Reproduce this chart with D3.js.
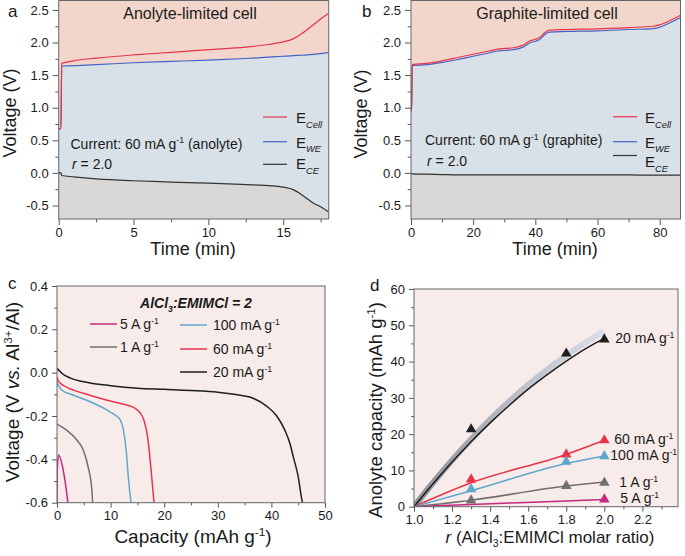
<!DOCTYPE html>
<html><head><meta charset="utf-8">
<script src="https://cdn.jsdelivr.net/npm/d3@7"></script>
<style>body{margin:0;background:#fff}svg{display:block;font-family:"Liberation Sans",Arial,sans-serif}</style>
</head><body>
<svg id="fig" width="685" height="556"></svg>
<script>
// ---------- Panel a : anolyte-limited cell ----------
const timeA = [0,0.15,0.2,1,2.5,5,7.5,10,12.5,14,15,15.7,16.2,17,17.5,18.04];
const cellA = [0.68,0.68,1.68,1.72,1.76,1.81,1.85,1.89,1.93,1.97,2.01,2.06,2.13,2.27,2.36,2.45];
const weA   = [0.68,0.68,1.64,1.645,1.66,1.69,1.71,1.73,1.755,1.775,1.79,1.80,1.805,1.82,1.83,1.845];
const ceA   = [0.005,0.0,-0.04,-0.06,-0.09,-0.12,-0.14,-0.157,-0.18,-0.195,-0.218,-0.26,-0.33,-0.46,-0.52,-0.6];
// ---------- Panel b : graphite-limited cell ----------
const timeB = [0,0.2,0.4,5,10,15,20,25,28,33,36,38,40,41.5,43,44.5,50,60,70,78,80,83,86.7];
const cellB = [0.95,0.95,1.66,1.68,1.72,1.77,1.82,1.87,1.9,1.92,1.96,2.02,2.05,2.08,2.15,2.19,2.2,2.21,2.23,2.25,2.27,2.33,2.42];
const weB   = [0.945,0.94,1.645,1.66,1.695,1.74,1.79,1.84,1.87,1.89,1.93,1.99,2.02,2.05,2.12,2.16,2.17,2.18,2.2,2.215,2.235,2.295,2.385];
const ceB   = [-0.005,-0.01,-0.015,-0.02,-0.025,-0.03,-0.03,-0.03,-0.03,-0.03,-0.03,-0.03,-0.03,-0.03,-0.03,-0.03,-0.03,-0.03,-0.03,-0.035,-0.035,-0.035,-0.035];
const voltTicks = [-0.5,0,0.5,1.0,1.5,2.0,2.5];
const voltMinor = [-0.25,0.25,0.75,1.25,1.75,2.25];
const timeTicksA = [0,5,10,15];
const timeMinorA = [2.5,7.5,12.5,17.5];
const timeTicksB = [0,20,40,60,80];
const timeMinorB = [10,30,50,70];
// ---------- Panel c : discharge curves ----------
const cap20 = [0,1,2.5,5,10,15,20,25,30,33,36.6,39.1,41,42.5,43.5,44.1,45,45.5,45.8];
const v20   = [0.02,-0.005,-0.025,-0.042,-0.06,-0.072,-0.077,-0.082,-0.09,-0.1,-0.118,-0.154,-0.2,-0.265,-0.33,-0.39,-0.48,-0.56,-0.6];
const cap60 = [0,0.3,1.8,4.9,8,11.1,13,14.6,15.5,16.2,16.9,17.5,18.1];
const v60   = [-0.02,-0.04,-0.067,-0.095,-0.118,-0.138,-0.149,-0.165,-0.185,-0.218,-0.295,-0.434,-0.6];
const cap100 = [0,0.87,3,6.2,9.3,10.8,11.8,12.4,12.9,13.3,13.8];
const v100   = [-0.045,-0.08,-0.103,-0.134,-0.172,-0.195,-0.218,-0.265,-0.357,-0.48,-0.6];
const cap1A = [0,1.8,3.7,4.9,5.8,6.5,6.65];
const v1A   = [-0.237,-0.265,-0.311,-0.357,-0.434,-0.54,-0.6];
const cap5A = [0,0.05,0.3,1.0,1.5,2.05];
const v5A   = [-0.6,-0.45,-0.38,-0.43,-0.5,-0.6];
const capTicks = [0,10,20,30,40,50];
const capMinor = [5,15,25,35,45];
const vcTicks = [-0.6,-0.4,-0.2,0.0,0.2,0.4];
const vcMinor = [-0.5,-0.3,-0.1,0.1,0.3];
// ---------- Panel d : capacity vs r ----------
const ratios = [1.3,1.8,2.0];
const pts20 = [21.6,42.5,46.4];
const pts60 = [7.8,14.7,18.6];
const pts100 = [5.1,12.7,14.2];
const pts1A = [2.0,6.0,6.9];
const ratio5A = [2.0];
const pts5A = [2.3];
const fitR = [1.0,1.1,1.2,1.3,1.4,1.5,1.6,1.7,1.8,1.9,2.0];
const fit20 = [0,6.3,12.3,17.9,23.1,27.9,32.4,36.4,40.1,43.5,46.4];
const band20 = [0,6.6,12.8,18.6,24.0,29.0,33.6,37.8,41.6,45.2,48.4];
const lineR = [1.0,1.3,1.8,2.0];
const line60 = [0,6.6,14.4,18.3];
const line100 = [0,4.4,11.9,14.0];
const line1A = [0,1.8,5.7,6.8];
const line5A = [0,0.6,1.6,2.0];
const rTicks = [1.0,1.2,1.4,1.6,1.8,2.0,2.2];
const rMinor = [1.1,1.3,1.5,1.7,1.9,2.1,2.3];
const dcTicks = [0,10,20,30,40,50,60];
const dcMinor = [5,15,25,35,45,55];

const RED = '#e8344b', BLUE = '#4463c6', BLACK = '#1e1e1e', LBLUE = '#5ea7cc', GREY = '#6f6f6f', MAG = '#c4287f';
const svg = d3.select('#fig');

function rich(t, str, size) {
  const re = /(\^\{[^}]*\}|_\{[^}]*\}|~\{[^}]*\}|%\{[^}]*\})/g;
  const parts = str.split(re).filter(s => s.length);
  let shift = 0;
  parts.forEach(p => {
    let kind = 'n', txt = p;
    if (/^[\^_~%]\{/.test(p)) { kind = p[0]; txt = p.slice(2, -1); }
    const ts = t.append('tspan').text(txt);
    let target = 0;
    if (kind === '^') { target = -size * 0.36; ts.attr('font-size', size * 0.62); }
    else if (kind === '_') { target = size * 0.25; ts.attr('font-size', size * 0.62); }
    else if (kind === '%') { target = size * 0.3; ts.attr('font-size', size * 0.62).attr('font-style', 'italic'); }
    else if (kind === '~') ts.attr('font-style', 'italic');
    const dy = target - shift;
    if (dy) ts.attr('dy', dy.toFixed(2));
    shift = target;
  });
  return t;
}
function label(x, y, str, size, opts = {}) {
  const t = svg.append('text').attr('x', x).attr('y', y).attr('font-size', size)
    .attr('fill', '#1a1a1a').attr('text-anchor', opts.anchor || 'start');
  if (opts.weight) t.attr('font-weight', opts.weight);
  if (opts.style) t.attr('font-style', opts.style);
  if (opts.rotate) t.attr('transform', `rotate(-90,${x},${y})`);
  return rich(t, str, size);
}
const fmt1 = d => d.toFixed(1);
const fmt0 = d => String(d);

function axes(xs, ys, xT, xM, yT, yM, fx, fy, tick) {
  const [x0, x1] = xs.range(), [yb, yt] = ys.range();
  const g = svg.append('g');
  g.append('g').attr('transform', `translate(0,${yb})`)
    .call(d3.axisBottom(xs).tickValues(xT).tickFormat(fx).tickSize(tick).tickPadding(3).tickSizeOuter(0));
  g.append('g').attr('transform', `translate(0,${yb})`)
    .call(d3.axisBottom(xs).tickValues(xM).tickFormat('').tickSize(tick * 0.55).tickSizeOuter(0));
  g.append('g').attr('transform', `translate(${x0},0)`)
    .call(d3.axisLeft(ys).tickValues(yT).tickFormat(fy).tickSize(tick).tickPadding(4).tickSizeOuter(0));
  g.append('g').attr('transform', `translate(${x0},0)`)
    .call(d3.axisLeft(ys).tickValues(yM).tickFormat('').tickSize(tick * 0.55).tickSizeOuter(0));
  g.selectAll('.domain').remove();
  g.selectAll('.tick line').attr('stroke', '#555');
  g.selectAll('text').attr('font-size', 13).attr('fill', '#1a1a1a')
    .attr('font-family', '"Liberation Sans", Arial, sans-serif');
  svg.append('rect').attr('x', x0).attr('y', yt).attr('width', x1 - x0).attr('height', yb - yt)
    .attr('fill', 'none').attr('stroke', '#666').attr('stroke-width', 1);
}
function clip(id, xs, ys) {
  const [x0, x1] = xs.range(), [yb, yt] = ys.range();
  svg.append('clipPath').attr('id', id).append('rect')
    .attr('x', x0).attr('y', yt).attr('width', x1 - x0).attr('height', yb - yt);
  return svg.append('g').attr('clip-path', `url(#${id})`);
}

// ===== Panels a and b =====
function voltPanel(id, xs, ys, t, cell, we, ce) {
  const [x0, x1] = xs.range(), [yb, yt] = ys.range();
  const g = clip(id, xs, ys);
  g.append('rect').attr('x', x0).attr('y', yt).attr('width', x1 - x0).attr('height', yb - yt).attr('fill', '#f3d6cb');
  const idx = d3.range(t.length);
  g.append('path').attr('fill', '#d8e1e7')
    .attr('d', d3.area().x(i => xs(t[i])).y0(yb).y1(i => ys(we[i])).curve(d3.curveMonotoneX)(idx));
  g.append('path').attr('fill', '#d9d8d6')
    .attr('d', d3.area().x(i => xs(t[i])).y0(yb).y1(i => ys(ce[i])).curve(d3.curveMonotoneX)(idx));
  const ln = arr => d3.line().x(i => xs(t[i])).y(i => ys(arr[i])).curve(d3.curveMonotoneX)(idx);
  g.append('path').attr('d', ln(we)).attr('fill', 'none').attr('stroke', BLUE).attr('stroke-width', 1.2);
  g.append('path').attr('d', ln(cell)).attr('fill', 'none').attr('stroke', RED).attr('stroke-width', 1.2);
  g.append('path').attr('d', ln(ce)).attr('fill', 'none').attr('stroke', '#333').attr('stroke-width', 1.2);
}
const xA = d3.scaleLinear().domain([0, 18.04]).range([58.7, 328.7]);
const yAB = d3.scaleLinear().domain([-0.707, 2.645]).range([219, 0.5]);
voltPanel('ca', xA, yAB, timeA, cellA, weA, ceA);
axes(xA, yAB, timeTicksA, timeMinorA, voltTicks, voltMinor, fmt0, fmt1, 6);
const xB = d3.scaleLinear().domain([0, 86.7]).range([411, 680.5]);
voltPanel('cb', xB, yAB, timeB, cellB, weB, ceB);
axes(xB, yAB, timeTicksB, timeMinorB, voltTicks, voltMinor, fmt0, fmt1, 6);

label(8, 17, 'a', 17);
label(190, 19, 'Anolyte-limited cell', 16, {anchor: 'middle'});
label(70.5, 148.5, 'Current: 60 mA g^{-1} (anolyte)', 14);
label(72, 168.5, '~{r} = 2.0', 14);
label(16, 113, 'Voltage (V)', 18, {anchor: 'middle', rotate: true});
label(193, 255, 'Time (min)', 18, {anchor: 'middle'});
label(362, 17, 'b', 17);
label(547, 19, 'Graphite-limited cell', 16, {anchor: 'middle'});
label(425, 145, 'Current: 60 mA g^{-1} (graphite)', 14);
label(427, 166, '~{r} = 2.0', 14);
label(367, 114, 'Voltage (V)', 18, {anchor: 'middle', rotate: true});
label(555, 255, 'Time (min)', 18, {anchor: 'middle'});

function eLegend(lx, tx, rows) {
  rows.forEach(([y, ty, col, sub]) => {
    svg.append('line').attr('x1', lx).attr('x2', lx + 24).attr('y1', y).attr('y2', y)
      .attr('stroke', col).attr('stroke-width', 1.2);
    label(tx, ty, 'E%{' + sub + '}', 15);
  });
}
eLegend(263, 296, [[117, 123, RED, 'Cell'], [141.7, 147.5, BLUE, 'WE'], [164.3, 169, '#333', 'CE']]);
eLegend(613, 645, [[116.7, 123, RED, 'Cell'], [141.7, 147.5, BLUE, 'WE'], [155.5, 167, '#333', 'CE']]);

// ===== Panel c =====
const xC = d3.scaleLinear().domain([0, 50]).range([57, 325]);
const yC = d3.scaleLinear().domain([-0.6, 0.4]).range([502.7, 286]);
const gc = clip('cc', xC, yC);
gc.append('rect').attr('x', 57).attr('y', 286).attr('width', 268).attr('height', 216.7).attr('fill', '#f8ecea');
const seriesC = [[cap5A, v5A, MAG], [cap1A, v1A, GREY], [cap100, v100, LBLUE], [cap60, v60, RED], [cap20, v20, BLACK]];
seriesC.forEach(([cx, vy, col]) => {
  const idx = d3.range(cx.length);
  gc.append('path').attr('fill', 'none').attr('stroke', col).attr('stroke-width', 1.5)
    .attr('d', d3.line().x(i => xC(cx[i])).y(i => yC(vy[i])).curve(d3.curveMonotoneX)(idx));
});
axes(xC, yC, capTicks, capMinor, vcTicks, vcMinor, fmt0, fmt1, 5);
label(8, 289, 'c', 17);
label(196, 308, 'AlCl_{3}:EMIMCl = 2', 14, {anchor: 'middle', weight: 'bold', style: 'italic'});
[[90, 120, 324, MAG, '5 A g^{-1}'], [90, 120, 347, GREY, '1 A g^{-1}'],
 [180, 213, 325, LBLUE, '100 mA g^{-1}'], [180, 213, 349, RED, '60 mA g^{-1}'], [180, 213, 372, BLACK, '20 mA g^{-1}']]
 .forEach(([lx, tx, y, col, s]) => {
   svg.append('line').attr('x1', lx).attr('x2', lx + 27).attr('y1', y).attr('y2', y).attr('stroke', col).attr('stroke-width', 1.5);
   label(tx, y + 5, s, 14);
 });
label(19, 392, 'Voltage (V ~{vs.} Al^{3+}/Al)', 19, {anchor: 'middle', rotate: true});
label(193, 543, 'Capacity (mAh g^{-1})', 19, {anchor: 'middle'});

// ===== Panel d =====
const xD = d3.scaleLinear().domain([1.0, 2.387]).range([414, 678]);
const yD = d3.scaleLinear().domain([0, 60]).range([506.7, 289]);
const gd = clip('cd', xD, yD);
gd.append('rect').attr('x', 414).attr('y', 289).attr('width', 264).attr('height', 217.7).attr('fill', '#f8ecea');
const grad = svg.append('defs').append('linearGradient').attr('id', 'bandg')
  .attr('gradientUnits', 'userSpaceOnUse').attr('x1', xD(1.0)).attr('x2', xD(2.0)).attr('y1', 0).attr('y2', 0);
grad.append('stop').attr('offset', 0).attr('stop-color', '#8d8f98');
grad.append('stop').attr('offset', 0.5).attr('stop-color', '#b9bcc6');
grad.append('stop').attr('offset', 1).attr('stop-color', '#d9dee8');
const fidx = d3.range(fitR.length);
gd.append('path').attr('fill', 'none').attr('stroke', 'url(#bandg)').attr('stroke-width', 6)
  .attr('d', d3.line().x(i => xD(fitR[i])).y(i => yD(band20[i])).curve(d3.curveMonotoneX)(fidx));
gd.append('path').attr('fill', 'none').attr('stroke', BLACK).attr('stroke-width', 1.5)
  .attr('d', d3.line().x(i => xD(fitR[i])).y(i => yD(fit20[i])).curve(d3.curveMonotoneX)(fidx));
const lidx = d3.range(lineR.length);
[[line60, RED], [line100, LBLUE], [line1A, GREY], [line5A, MAG]].forEach(([arr, col]) => {
  gd.append('path').attr('fill', 'none').attr('stroke', col).attr('stroke-width', 1.5)
    .attr('d', d3.line().x(i => xD(lineR[i])).y(i => yD(arr[i])).curve(d3.curveMonotoneX)(lidx));
});
const tri = d3.symbol().type(d3.symbolTriangle).size(48);
[[ratios, pts20, BLACK], [ratios, pts60, RED], [ratios, pts100, LBLUE], [ratios, pts1A, GREY], [ratio5A, pts5A, MAG]]
  .forEach(([rs, vs, col]) => {
    rs.forEach((r, i) => svg.append('path').attr('d', tri())
      .attr('transform', `translate(${xD(r)},${yD(vs[i]) + 1})`).attr('fill', col));
  });
axes(xD, yD, rTicks, rMinor, dcTicks, dcMinor, fmt1, fmt0, 5);
label(370, 291, 'd', 17);
[[pts20[2], 11, '20 mA g^{-1}'], [pts60[2], 10, '60 mA g^{-1}'], [pts100[2], 6, '100 mA g^{-1}'],
 [pts1A[2], 15, '1 A g^{-1}'], [pts5A[0], 16, '5 A g^{-1}']].forEach(([v, dx, s]) => {
  label(xD(2.0) + dx, yD(v) + 5, s, 14);
});
label(382, 410, 'Anolyte capacity (mAh g^{-1})', 18.5, {anchor: 'middle', rotate: true});
label(550, 543, '~{r} (AlCl_{3}:EMIMCl molar ratio)', 17, {anchor: 'middle'});
</script>
</body></html>
